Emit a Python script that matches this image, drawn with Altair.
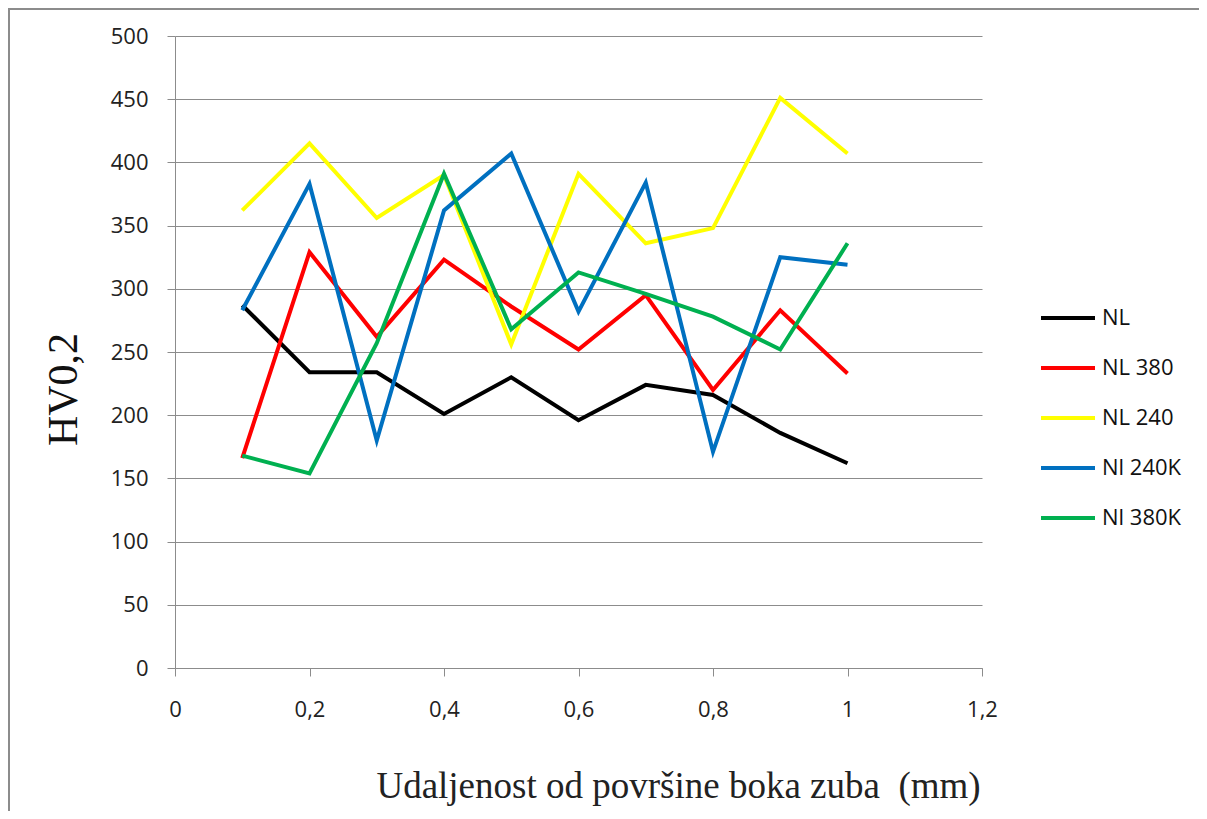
import altair as alt
import pandas as pd

distance = [0.1, 0.2, 0.3, 0.4, 0.5, 0.6, 0.7, 0.8, 0.9, 1.0]

nl = [287, 234, 234, 201, 230, 196, 224, 216, 186, 162]
nl380 = [166, 329, 262, 323, 286, 252, 295, 220, 283, 233]
nl240 = [362, 415, 356, 390, 256, 391, 336, 348, 451, 407]
nl240k = [283, 383, 180, 362, 407, 282, 384, 171, 325, 319]
nl380k = [168, 154, 257, 391, 268, 313, 296, 278, 252, 336]

series_names = ["NL", "NL 380", "NL 240", "Nl 240K", "Nl 380K"]
series_values = [nl, nl380, nl240, nl240k, nl380k]
series_colors = ["#000000", "#FF0000", "#FFFF00", "#0070C0", "#00B050"]

x_ticks = [0, 0.2, 0.4, 0.6, 0.8, 1.0, 1.2]
y_ticks = [0, 50, 100, 150, 200, 250, 300, 350, 400, 450, 500]

rows = []
for name, vals in zip(series_names, series_values):
    for xv, yv in zip(distance, vals):
        rows.append({"x": xv, "y": yv, "series": name})
df = pd.DataFrame(rows)

GRAY = "#8C8C8C"

lines = alt.Chart(df).mark_line(strokeWidth=4).encode(
    x=alt.X(
        "x:Q",
        scale=alt.Scale(domain=[0, 1.2], nice=False),
        axis=alt.Axis(
            values=x_ticks,
            labelExpr="replace(format(datum.value, '~g'), '.', ',')",
            labelFlush=False,
            title="Udaljenost od površine boka zuba \u00a0(mm)",
            titleFont="Liberation Serif",
            titleFontSize=37,
            titleFontWeight="normal",
            titleColor="#222222",
            titleX=503,
            titleY=118,
            titleAlign="center",
            titleBaseline="middle",
            grid=False,
            domainColor=GRAY,
            tickColor=GRAY,
            tickSize=8,
            labelFont="Open Sans",
            labelFontSize=22,
            labelColor="#222222",
            labelPadding=23,
        ),
    ),
    y=alt.Y(
        "y:Q",
        scale=alt.Scale(domain=[0, 500], nice=False),
        axis=alt.Axis(
            values=y_ticks,
            title="HV0,2",
            titleFont="Liberation Serif",
            titleFontSize=42,
            titleFontWeight="normal",
            titleColor="#111111",
            titleX=-112,
            titleY=353,
            titleAngle=270,
            titleAlign="center",
            titleBaseline="middle",
            grid=True,
            gridColor=GRAY,
            gridWidth=1,
            domainColor=GRAY,
            tickColor=GRAY,
            tickSize=8,
            labelFont="Open Sans",
            labelFontSize=22,
            labelColor="#222222",
            labelPadding=19,
        ),
    ),
    color=alt.Color(
        "series:N",
        scale=alt.Scale(domain=series_names, range=series_colors),
        legend=alt.Legend(
            title=None,
            orient="none",
            legendX=864,
            legendY=272,
            symbolType="stroke",
            symbolSize=2916,
            symbolStrokeWidth=4,
            clipHeight=20,
            rowPadding=28,
            labelOffset=5,
            labelFont="Open Sans",
            labelFontSize=22,
            labelColor="#111111",
            labelBaseline="middle",
            padding=0,
        ),
    ),
    order=alt.value(0),
)

frame_df = pd.DataFrame({"k": [0]})
left_edge = alt.Chart(frame_df).mark_rule(color=GRAY, strokeWidth=2).encode(
    x=alt.value(-166), y=alt.value(-27), y2=alt.value(780)
)
top_edge = alt.Chart(frame_df).mark_rule(color=GRAY, strokeWidth=2).encode(
    x=alt.value(-167), x2=alt.value(1030), y=alt.value(-27)
)

chart = alt.layer(left_edge, top_edge, lines).properties(
    width=807,
    height=632,
    autosize=alt.AutoSizeParams(type="none"),
    padding={"left": 167, "top": 28, "right": 217, "bottom": 143},
    background="white",
).configure_view(stroke=None)

chart.save("out.html", embed_options={"renderer": "svg", "actions": False})
